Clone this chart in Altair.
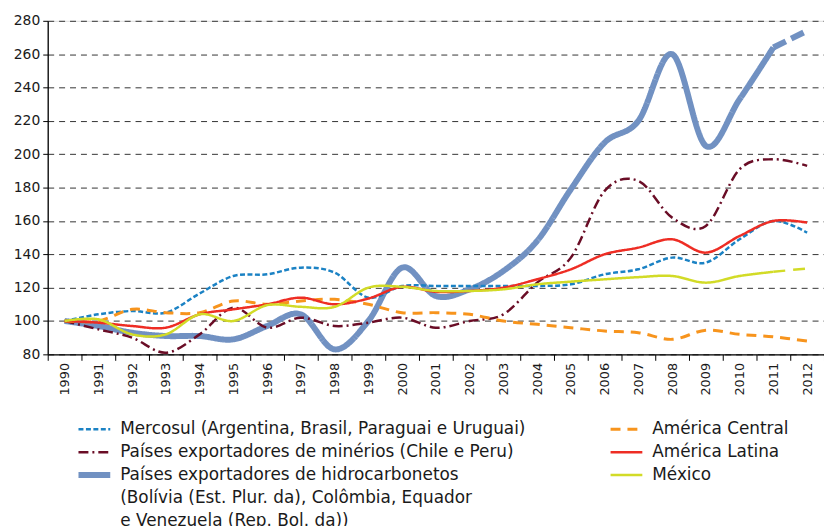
import altair as alt
import pandas as pd

years = list(range(1990, 2013))

s_merc = "Mercosul (Argentina, Brasil, Paraguai e Uruguai)"
s_min = "Países exportadores de minérios (Chile e Peru)"
s_hid = "Países exportadores de hidrocarbonetos"
s_hid2 = "(Bolívia (Est. Plur. da), Colômbia, Equador"
s_hid3 = "e Venezuela (Rep. Bol. da))"
s_cen = "América Central"
s_lat = "América Latina"
s_mex = "México"
s_blank1 = " "
s_blank2 = "  "

mercosul = [100, 104, 106, 105, 116.5, 127, 128, 132, 129, 114, 121, 121, 121, 121, 121, 122,
            128, 131, 138, 135, 149, 160, 153]
minerios = [100, 95, 90, 81, 92, 108, 96, 102, 97, 99, 102, 96, 100, 104, 123, 138,
            178, 184, 162, 157, 191, 197, 193]
hidrocarb = [100, 97, 93, 91, 91, 89, 97, 104, 83, 100, 132, 115, 119, 130, 148, 179,
             207, 220, 260, 205, 233, 264, 274]
central = [100, 100, 107, 105, 105, 112, 110, 112, 113, 110, 105, 105, 104, 100, 98, 96,
           94, 93, 89, 94.5, 92, 90.5, 88]
latina = [100, 99, 97, 96, 104, 107, 110, 114, 110, 113.5, 120.5, 117.5, 118, 120, 125, 131,
          140, 144, 149, 141, 151, 160, 159]
mexico = [100, 101, 92, 92, 104, 100, 109.5, 108.5, 108.5, 120, 120.5, 118, 118, 119, 122, 123.6,
          125, 126.3, 127, 123, 127, 129.5, 131.5]

# legend is laid out column by column (5 rows x 2 columns)
domain = [s_merc, s_min, s_hid, s_hid2, s_hid3, s_cen, s_lat, s_mex, s_blank1, s_blank2]
none = "rgba(0,0,0,0)"
colors = ["#1b82c4", "#6a0d26", "#7191c2", none, none, "#f7941d", "#ee2d24", "#d2db27", none, none]
dashes = [[5, 2.5], [10, 4, 2, 4], [1, 0], [1, 0], [1, 0], [10, 7], [1, 0], [1, 0], [1, 0], [1, 0]]
widths = [2.5, 2.5, 6, 0, 0, 3, 2.5, 2.5, 0, 0]

rows = []
series_vals = [
    (s_hid, hidrocarb, 2011),
    (s_merc, mercosul, 2012),
    (s_min, minerios, 2012),
    (s_cen, central, 2012),
    (s_lat, latina, 2012),
    (s_mex, mexico, 2011),
]
for name, vals, last in series_vals:
    for y, v in zip(years, vals):
        if y <= last:
            rows.append({"ano": str(y), "valor": v, "serie": name})
df = pd.DataFrame(rows)

ext_hid = pd.DataFrame({"ano": ["2011", "2012"], "valor": hidrocarb[-2:]})
ext_mex = pd.DataFrame({"ano": ["2011", "2012"], "valor": mexico[-2:]})

font = "DejaVu Sans"
x_enc = alt.X("ano:O", bandPosition=0.5,
              scale=alt.Scale(type="band", paddingInner=0, paddingOuter=0),
              axis=alt.Axis(title=None, labelAngle=-90, tickBand="extent", tickSize=6,
                            labelFontSize=13, labelFont=font, labelColor="#1a1a1a",
                            domainColor="#000", tickColor="#000", domainWidth=1.3,
                            labelPadding=2, grid=False, labelOverlap=False))
y_enc = alt.Y("valor:Q",
              scale=alt.Scale(domain=[80, 280], nice=False, zero=False),
              axis=alt.Axis(title=None, values=list(range(80, 281, 20)), labelFontSize=14,
                            labelFont=font, labelColor="#1a1a1a", domainColor="#000",
                            tickColor="#000", tickSize=5, domainWidth=1.3, labelPadding=3,
                            labelOverlap=False, labelBound=False,
                            grid=True, gridDash=[6, 5], gridColor="#333", gridWidth=1))

legend = alt.Legend(orient="none", legendX=28, legendY=400, columns=2, columnPadding=82,
                    rowPadding=0, clipHeight=23, symbolSize=1024, symbolType="stroke",
                    labelFontSize=17, labelFont=font, labelColor="#1a1a1a", labelOffset=7,
                    labelLimit=0, title=None, padding=0)

main = alt.Chart(df).mark_line(interpolate="cardinal").encode(
    x=x_enc,
    y=y_enc,
    color=alt.Color("serie:N", scale=alt.Scale(domain=domain, range=colors), legend=legend),
    strokeDash=alt.StrokeDash("serie:N", scale=alt.Scale(domain=domain, range=dashes), legend=legend),
    strokeWidth=alt.StrokeWidth("serie:N", scale=alt.Scale(type="ordinal", domain=domain, range=widths),
                                legend=legend),
)

ext1 = alt.Chart(ext_hid).mark_line(color="#7191c2", strokeWidth=6, strokeDash=[14, 6]).encode(
    x=x_enc, y=y_enc)
ext2 = alt.Chart(ext_mex).mark_line(color="#d2db27", strokeWidth=2.5, strokeDash=[12, 8]).encode(
    x=x_enc, y=y_enc)

chart = alt.layer(main, ext1, ext2).properties(
    width=782, height=336,
    autosize=alt.AutoSizeParams(type="none"),
    padding={"left": 40, "top": 11, "right": 0, "bottom": 171},
).configure_view(stroke=None).configure(font=font)

chart.save("out.html", embed_options={"renderer": "svg", "actions": False})
